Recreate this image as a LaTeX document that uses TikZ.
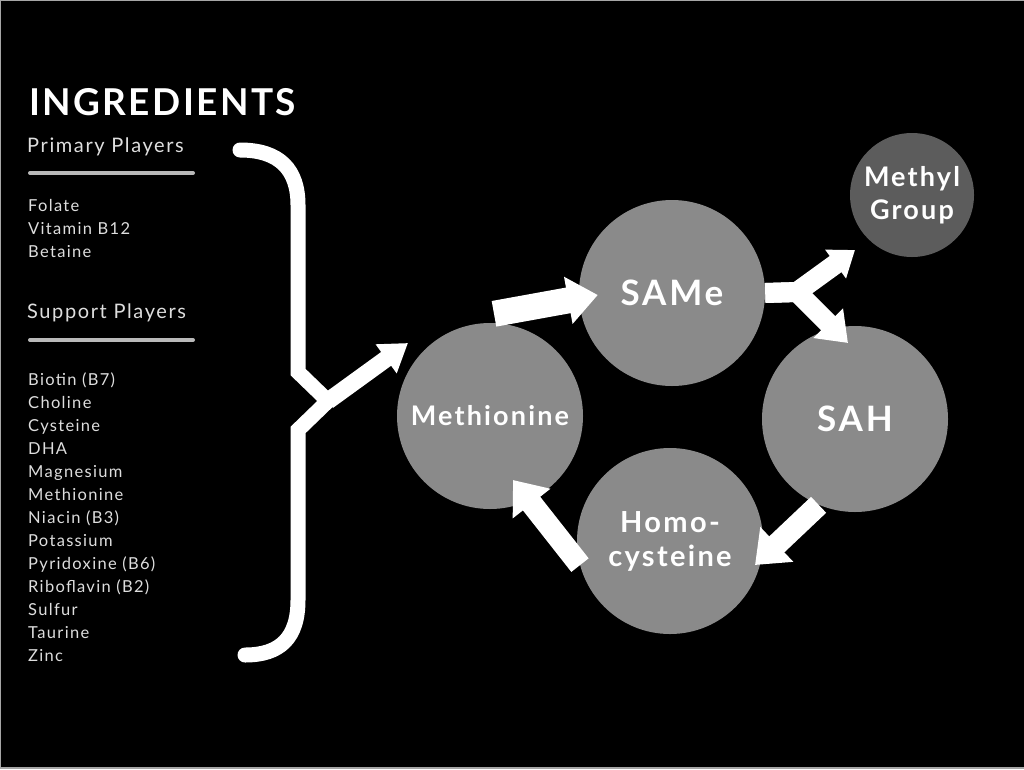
\documentclass[tikz,border=0pt]{standalone}
\usepackage{fontspec}
\setmainfont{Lato}[LetterSpace=8]
\usetikzlibrary{arrows.meta,positioning,calc}
\definecolor{listgray}{RGB}{222,222,222}
\definecolor{rulegray}{RGB}{185,185,185}
\definecolor{stagegray}{RGB}{138,138,138}
\definecolor{methylgray}{RGB}{92,92,92}
\tikzset{
  stage/.style={circle,fill=stagegray,minimum size=186pt,inner sep=0pt,
    text=white,align=center,font=\bfseries\fontsize{27}{33}\selectfont},
  blockarrow/.style={white,line width=22pt,-{Triangle[length=30pt,width=46pt]}},
  bracket/.style={white,line width=15pt,line cap=round,line join=miter},
  rulebar/.style={draw=rulegray,line width=4pt,line cap=round},
  heading/.style={anchor=base west,inner sep=0pt,text=listgray,
    font=\fontsize{20}{24}\selectfont},
  listtext/.style={anchor=north west,inner sep=0pt,text=listgray,align=left,
    font=\fontsize{16.5}{23}\selectfont},
}

\begin{document}
\begin{tikzpicture}[x=1pt,y=-1pt]
  \fill[black] (0,0) rectangle (1024,769);
  \useasboundingbox (0,0) rectangle (1024,769);
  \draw[gray!70,line width=1.5pt] (1024,768) -- (0.7,768) -- (0.7,0.7) -- (1024,0.7);
  % left column
  \node[anchor=base west,inner sep=0pt,text=white,
    font=\bfseries\fontsize{37}{40}\selectfont\addfontfeatures{LetterSpace=6.5}] (title) at (29,115) {INGREDIENTS};
  \node[heading] (prim) at (27,152) {Primary Players};
  \draw[rulebar] (30,173) -- (193,173);
  \node[listtext] (primlist) at (28,199) {Folate\\Vitamin B12\\Betaine};
  \node[heading] (supp) at (27,318) {Support Players};
  \draw[rulebar] (30,340) -- (193,340);
  \node[listtext] (supplist) at (28,372) {Biotin (B7)\\Choline\\Cysteine\\DHA\\Magnesium\\Methionine\\Niacin (B3)\\Potassium\\Pyridoxine (B6)\\Riboflavin (B2)\\Sulfur\\Taurine\\Zinc};
  % brace
  \coordinate (bracetip) at (328,401);
  \draw[bracket] (240,150) .. controls (280,150) and (298,170) .. (298,205)
    -- (298,372) -- (bracetip) -- (298,430) -- (298,600)
    .. controls (298,638) and (280,655) .. (245,655);
  % cycle
  \node[stage] (meth) at (490,416) {Methionine};
  \node[stage,font=\bfseries\fontsize{35}{40}\selectfont] (same) at (672,293) {SAMe};
  \node[stage,font=\bfseries\fontsize{35}{40}\selectfont] (sah) at (855,419) {SAH};
  \node[stage,font=\bfseries\fontsize{29}{34}\selectfont] (homo) at (670,541) {Homo-\\cysteine};
  \node[stage,fill=methylgray,minimum size=124pt] (methyl) at (912,195) {Methyl\\Group};
  % arrows
  \draw[blockarrow,line width=17pt,-{Triangle[length=27pt,width=34pt]}]
    (bracetip) -- ($(meth)+(-82,-73)$);
  \draw[blockarrow,line width=26pt] ($(meth.north)+(4,-9)$) -- ($(same.west)+(19,2)$);
  \coordinate (fork) at (797,292);
  \draw[blockarrow,line width=20pt,-{Triangle[length=24pt,width=34pt]}]
    (same.east) -- (fork) -- ($(methyl)+(-57,55)$);
  \draw[blockarrow,line width=20pt,-{Triangle[length=28pt,width=40pt]}]
    (same.east) -- (fork) -- ($(sah)+(-7,-76)$);
  \draw[blockarrow] (sah.247) -- ($(homo)+(85,24)$);
  \draw[blockarrow] (homo.195) -- ($(meth)+(23,64)$);
\end{tikzpicture}
\end{document}
